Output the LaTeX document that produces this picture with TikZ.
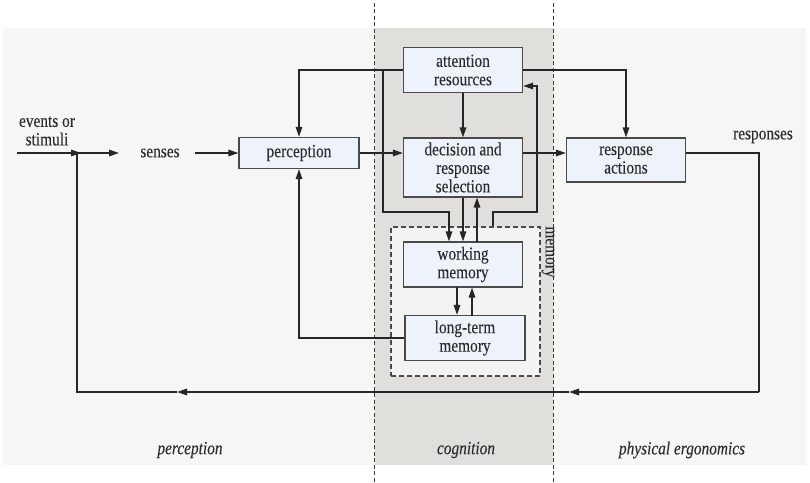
\documentclass[tikz,border=0pt]{standalone}
\usepackage{fontspec}
\setmainfont{Liberation Serif}[FakeStretch=0.83,FakeBold=0.1]
\usetikzlibrary{arrows.meta}
\definecolor{panel}{HTML}{F6F6F6}
\definecolor{band}{HTML}{E0DFDC}
\definecolor{meminside}{HTML}{F3F3F3}
\definecolor{boxfill}{HTML}{EEF2FA}
\definecolor{ink}{HTML}{262626}
\definecolor{txt}{HTML}{2C2C2C}
\definecolor{boxline}{HTML}{4A4A4A}
\definecolor{dashc}{HTML}{3A3A3A}
\begin{document}
\begin{tikzpicture}[x=1bp,y=-1bp,
  font=\fontsize{18.5bp}{18.5bp}\selectfont,
  box/.style={draw=boxline, fill=boxfill, line width=1.2bp, align=center, inner sep=0pt, text=txt},
  conn/.style={draw=ink, line width=1.5bp},
  arr/.style={conn, -{Triangle[length=10bp,width=6.5bp]}},
  divider/.style={draw=dashc, dash pattern=on 4bp off 2.5bp, line width=0.9bp},
  lbl/.style={font=\fontsize{18.5bp}{18.5bp}\selectfont\itshape, text=txt}]
\useasboundingbox (0,0) rectangle (810,483);
\fill[white] (0,0) rectangle (810,483);
\fill[panel] (3,28) rectangle (806,465);
\fill[band] (375,28) rectangle (553,465);
\coordinate (d1t) at (374,3); \coordinate (d1b) at (374,483);
\coordinate (d2t) at (553,3); \coordinate (d2b) at (553,483);
\draw[divider] (d1t) -- (d1b);
\draw[divider] (d2t) -- (d2b);

% memory region
\node[draw=boxline, fill=meminside, dash pattern=on 5bp off 3bp, line width=1.1bp, minimum width=149bp, minimum height=149bp, inner sep=0pt] (mem) at (465.5,301.5) {};
\node[rotate=-90, inner sep=0pt, text=txt] (memlbl) at (548,252) {memory};

% boxes
\node[box, minimum width=120bp, minimum height=31bp] (perc) at (299,153) {perception};
\node[box, minimum width=119bp, minimum height=45bp] (att) at (463,70) {attention\\resources};
\node[box, minimum width=119bp, minimum height=59bp] (dec) at (463,167.5) {decision and\\response\\selection};
\node[box, minimum width=119bp, minimum height=44bp] (ra) at (626,160) {response\\actions};
\node[box, minimum width=119bp, minimum height=45bp] (wm) at (463,264.5) {working\\memory};
\node[box, minimum width=120bp, minimum height=45bp] (ltm) at (465,338) {long-term\\memory};

% texts
\node[align=center, text=txt] (ev) at (47,131) {events or\\stimuli};
\node[text=txt] (sen) at (160,153) {senses};
\node[text=txt] (resp) at (763,137) {responses};
\node[lbl] (lp) at (190,450) {perception};
\node[lbl] (lc) at (466,450) {cognition};
\node[lbl] (le) at (682,450) {physical ergonomics};

% coordinates
\coordinate (e0) at (17,153);
\coordinate (jn) at (77,153);
\coordinate (jt) at (81,153);
\coordinate (st) at (119,153);
\coordinate (ss) at (195,153);
\coordinate (j1) at (383,70);
\coordinate (j2) at (383,212);
\coordinate (j3) at (449,212);
\coordinate (k1) at (477,242);
\coordinate (m1) at (493,212);
\coordinate (m2) at (537,212);
\coordinate (m3) at (537,86);
\coordinate (w1) at (457,287);
\coordinate (w2) at (472,316);
\coordinate (f1) at (759,153);
\coordinate (f2) at (759,392);
\coordinate (fa1) at (569,392);
\coordinate (fa2) at (177,392);
\coordinate (f3) at (77,392);

% connectors
\draw[arr] (e0) -- (jt);
\draw[arr] (jn) -- (st);
\draw[arr] (ss) -- (perc.west |- ss);
\draw[arr] (perc.east) -- (perc.east -| dec.west);
\draw[arr] (dec.east |- perc.east) -- (ra.west |- perc.east);
\draw[arr] (att.west) -| (perc.north);
\draw[arr] (j1) -- (j2) -- (j3) -- (j3 |- wm.north);
\draw[arr] (att.south) -- (dec.north);
\draw[arr] (dec.south) -- (dec.south |- wm.north);
\draw[arr] (k1) -- (k1 |- dec.south);
\draw[arr] (m1 |- mem.north) -- (m1) -- (m2) -- (m3) -- (m3 -| att.east);
\draw[arr] (att.east) -| (ra.north);
\draw[arr] (w1) -- (w1 |- ltm.north);
\draw[arr] (w2) -- (w2 |- wm.south);
\draw[arr] (ltm.west) -| (perc.south);
\draw[conn] (ra.east |- jn) -- (f1) -- (f2);
\draw[arr] (f2) -- (fa1);
\draw[arr] (fa1) -- (fa2);
\draw[conn] (fa2) -- (f3) -- (jn);
\end{tikzpicture}
\end{document}
